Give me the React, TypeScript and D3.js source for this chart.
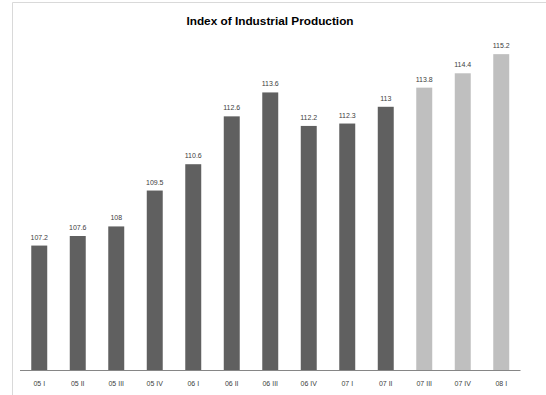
import React from "react";
import * as d3 from "d3";

const categories = ["05 I", "05 II", "05 III", "05 IV", "06 I", "06 II", "06 III", "06 IV", "07 I", "07 II", "07 III", "07 IV", "08 I"];
const values = [107.2, 107.6, 108, 109.5, 110.6, 112.6, 113.6, 112.2, 112.3, 113, 113.8, 114.4, 115.2];
const forecastFlags = [false, false, false, false, false, false, false, false, false, false, true, true, true];
const title = "Index of Industrial Production";

const W = 546;
const H = 395;

export default function App() {
  const x = d3.scaleBand<string>().domain(categories).range([20, 520.5]).paddingInner(0.585).paddingOuter(0.2925);
  const y = d3.scaleLinear().domain([102, 116]).range([370, 35]);
  const font = "'Liberation Sans', Arial, sans-serif";
  return (
    <svg width={W} height={H} style={{ position: "absolute", left: 0, top: 0, display: "block" }} fontFamily={font}>
      <rect x={0} y={0} width={W} height={H} fill="#fff" />
      <line x1={12.5} y1={2.5} x2={W} y2={2.5} stroke="#d9d9d9" />
      <line x1={12.5} y1={2.5} x2={12.5} y2={H} stroke="#d9d9d9" />
      <text x={270} y={25} textAnchor="middle" fontSize={11.8} fontWeight="bold" fill="#000">{title}</text>
      {categories.map((c, i) => {
        const bx = x(c)!;
        const by = y(values[i]);
        return (
          <g key={c}>
            <rect x={bx} y={by} width={x.bandwidth()} height={y(102) - by} fill={forecastFlags[i] ? "#bfbfbf" : "#606060"} />
            <text x={bx + x.bandwidth() / 2} y={by - 6} textAnchor="middle" fontSize={7} fill="#404040">{String(values[i])}</text>
            <text x={bx + x.bandwidth() / 2} y={386} textAnchor="middle" fontSize={7} fill="#404040">{c}</text>
          </g>
        );
      })}
      <line x1={20} y1={370.5} x2={520.5} y2={370.5} stroke="#868686" />
    </svg>
  );
}
